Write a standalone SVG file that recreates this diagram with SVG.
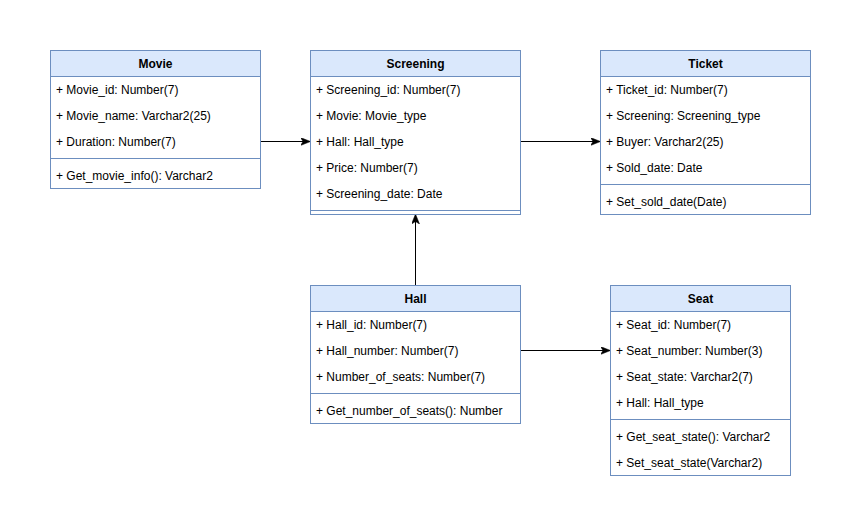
<svg xmlns="http://www.w3.org/2000/svg" width="861" height="529" viewBox="0 0 861 529">
  <style>
    .box { fill: #ffffff; stroke: #6c8ebf; stroke-width: 1; }
    .head { fill: #dae8fc; stroke: #6c8ebf; stroke-width: 1; }
    .sep { stroke: #6c8ebf; stroke-width: 1; fill: none; }
    .title { font-family: "Liberation Sans", Arial, sans-serif; font-size: 12px; font-weight: bold; fill: #000; text-anchor: middle; }
    .row { font-family: "Liberation Sans", Arial, sans-serif; font-size: 12px; fill: #000; }
    .edge { stroke: #000; stroke-width: 1; fill: none; marker-end: url(#arrow); }
  </style>
  <defs>
    <marker id="arrow" viewBox="0 0 10 8" refX="9" refY="4" markerWidth="10" markerHeight="8" markerUnits="userSpaceOnUse" orient="auto">
      <path d="M0,0 L10,4 L0,8 L2.5,4 Z" fill="#000" stroke="#000" stroke-width="0.5"/>
    </marker>
  </defs>
  <rect width="861" height="529" fill="#ffffff"/>

  <g id="edges">
    <path class="edge" d="M260.5,141.5 H309.5"/>
    <path class="edge" d="M520.5,141.5 H599.5"/>
    <path class="edge" d="M415.5,285 V215"/>
    <path class="edge" d="M520.5,350.5 H609.5"/>
  </g>

  <g id="movie">
    <rect class="box" x="50.5" y="50.5" width="210" height="138"/>
    <rect class="head" x="50.5" y="50.5" width="210" height="26"/>
    <text class="title" x="155.5" y="67.5">Movie</text>
    <text class="row" x="56" y="93.5">+ Movie_id: Number(7)</text>
    <text class="row" x="56" y="119.5">+ Movie_name: Varchar2(25)</text>
    <text class="row" x="56" y="145.5">+ Duration: Number(7)</text>
    <line class="sep" x1="50.5" y1="158.5" x2="260.5" y2="158.5"/>
    <text class="row" x="56" y="179.5">+ Get_movie_info(): Varchar2</text>
  </g>

  <g id="screening">
    <rect class="box" x="310.5" y="50.5" width="210" height="164"/>
    <rect class="head" x="310.5" y="50.5" width="210" height="26"/>
    <text class="title" x="415.5" y="67.5">Screening</text>
    <text class="row" x="316" y="93.5">+ Screening_id: Number(7)</text>
    <text class="row" x="316" y="119.5">+ Movie: Movie_type</text>
    <text class="row" x="316" y="145.5">+ Hall: Hall_type</text>
    <text class="row" x="316" y="171.5">+ Price: Number(7)</text>
    <text class="row" x="316" y="197.5">+ Screening_date: Date</text>
    <line class="sep" x1="310.5" y1="210.5" x2="520.5" y2="210.5"/>
  </g>

  <g id="ticket">
    <rect class="box" x="600.5" y="50.5" width="210" height="164"/>
    <rect class="head" x="600.5" y="50.5" width="210" height="26"/>
    <text class="title" x="705.5" y="67.5">Ticket</text>
    <text class="row" x="606" y="93.5">+ Ticket_id: Number(7)</text>
    <text class="row" x="606" y="119.5">+ Screening: Screening_type</text>
    <text class="row" x="606" y="145.5">+ Buyer: Varchar2(25)</text>
    <text class="row" x="606" y="171.5">+ Sold_date: Date</text>
    <line class="sep" x1="600.5" y1="184.5" x2="810.5" y2="184.5"/>
    <text class="row" x="606" y="205.5">+ Set_sold_date(Date)</text>
  </g>

  <g id="hall">
    <rect class="box" x="310.5" y="285.5" width="210" height="138"/>
    <rect class="head" x="310.5" y="285.5" width="210" height="26"/>
    <text class="title" x="415.5" y="302.5">Hall</text>
    <text class="row" x="316" y="328.5">+ Hall_id: Number(7)</text>
    <text class="row" x="316" y="354.5">+ Hall_number: Number(7)</text>
    <text class="row" x="316" y="380.5">+ Number_of_seats: Number(7)</text>
    <line class="sep" x1="310.5" y1="393.5" x2="520.5" y2="393.5"/>
    <text class="row" x="316" y="414.5">+ Get_number_of_seats(): Number</text>
  </g>

  <g id="seat">
    <rect class="box" x="610.5" y="285.5" width="180" height="190"/>
    <rect class="head" x="610.5" y="285.5" width="180" height="26"/>
    <text class="title" x="700.5" y="302.5">Seat</text>
    <text class="row" x="616" y="328.5">+ Seat_id: Number(7)</text>
    <text class="row" x="616" y="354.5">+ Seat_number: Number(3)</text>
    <text class="row" x="616" y="380.5">+ Seat_state: Varchar2(7)</text>
    <text class="row" x="616" y="406.5">+ Hall: Hall_type</text>
    <line class="sep" x1="610.5" y1="419.5" x2="790.5" y2="419.5"/>
    <text class="row" x="616" y="440.5">+ Get_seat_state(): Varchar2</text>
    <text class="row" x="616" y="466.5">+ Set_seat_state(Varchar2)</text>
  </g>
</svg>
